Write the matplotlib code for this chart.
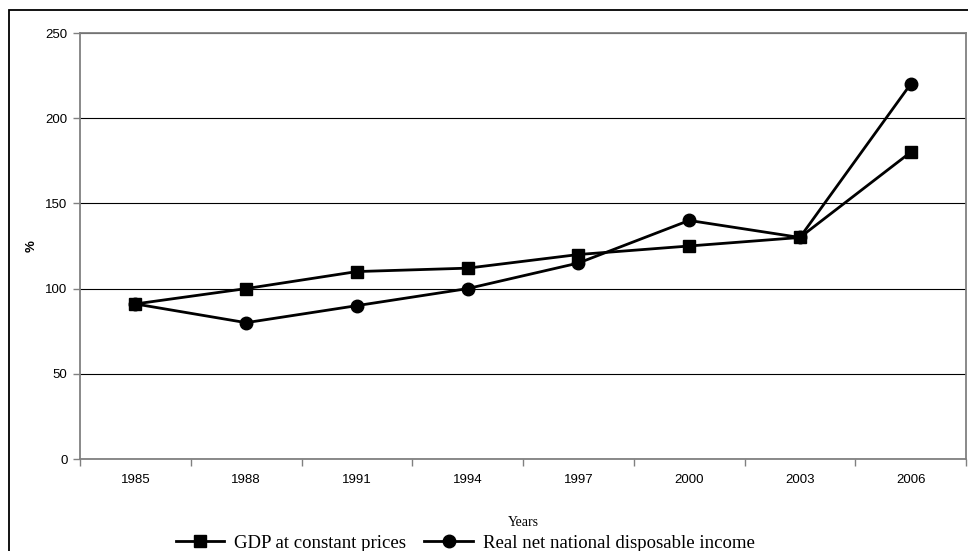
import matplotlib.pyplot as plt
import matplotlib.patches as patches
from matplotlib.ticker import FixedLocator

years = ['1985', '1988', '1991', '1994', '1997', '2000', '2003', '2006']
gdp = [91, 100, 110, 112, 120, 125, 130, 180]
income = [91, 80, 90, 100, 115, 140, 130, 220]
y_ticks = [0, 50, 100, 150, 200, 250]

fig = plt.figure(figsize=(9.68, 5.51), dpi=100)
ax = fig.add_axes([80 / 968, 1 - 459 / 551, 886 / 968, 426 / 551])

x = list(range(len(years)))
ax.plot(x, gdp, color='black', lw=2, marker='s', markersize=9,
        label='GDP at constant prices', zorder=3)
ax.plot(x, income, color='black', lw=2, marker='o', markersize=9,
        label='Real net national disposable income', zorder=3)

# category axis: ticks between years, labels centred on each year
ax.set_xlim(-0.5, len(years) - 0.5)
ax.xaxis.set_major_locator(FixedLocator([i - 0.5 for i in range(len(years) + 1)]))
ax.xaxis.set_minor_locator(FixedLocator(x))
ax.set_xticklabels([])
ax.set_xticklabels(years, minor=True)
ax.tick_params(axis='x', which='major', length=5, width=1, color='#808080', direction='out')
ax.tick_params(axis='x', which='minor', length=0, pad=11, labelsize=9.5)

ax.set_ylim(0, 250)
ax.set_yticks(y_ticks)
ax.tick_params(axis='y', length=5, width=1, color='#808080', labelsize=9.5, pad=4)
ax.yaxis.grid(True, color='black', lw=0.8)
ax.set_axisbelow(True)

for side in ['left', 'bottom', 'top', 'right']:
    ax.spines[side].set_color('#808080')
    ax.spines[side].set_linewidth(1.3)

for lab in ax.get_xticklabels(minor=True) + ax.get_yticklabels():
    lab.set_fontfamily('Liberation Sans')

ax.set_ylabel('%', fontfamily='Liberation Sans', fontweight='bold', fontsize=9.5)
ax.yaxis.set_label_coords((38 - 80) / 886, 0.5)
ax.set_xlabel('Years', fontfamily='Liberation Serif', fontsize=10)
ax.xaxis.set_label_coords(0.5, (459 - 516) / 426)

fig.legend(loc='center', bbox_to_anchor=(465 / 968, 1 - 543 / 551), ncol=2, frameon=False,
           prop={'family': 'Liberation Serif', 'size': 13.5}, handlelength=2.6,
           columnspacing=1.0, handletextpad=0.5)

# outer frame
frame = patches.Rectangle((9 / 968, -0.1), 2, 1 - 10 / 551 + 0.1, transform=fig.transFigure,
                          fill=False, edgecolor='black', lw=1.3, clip_on=False)
fig.patches.append(frame)

fig.savefig('out.png', dpi=100)
